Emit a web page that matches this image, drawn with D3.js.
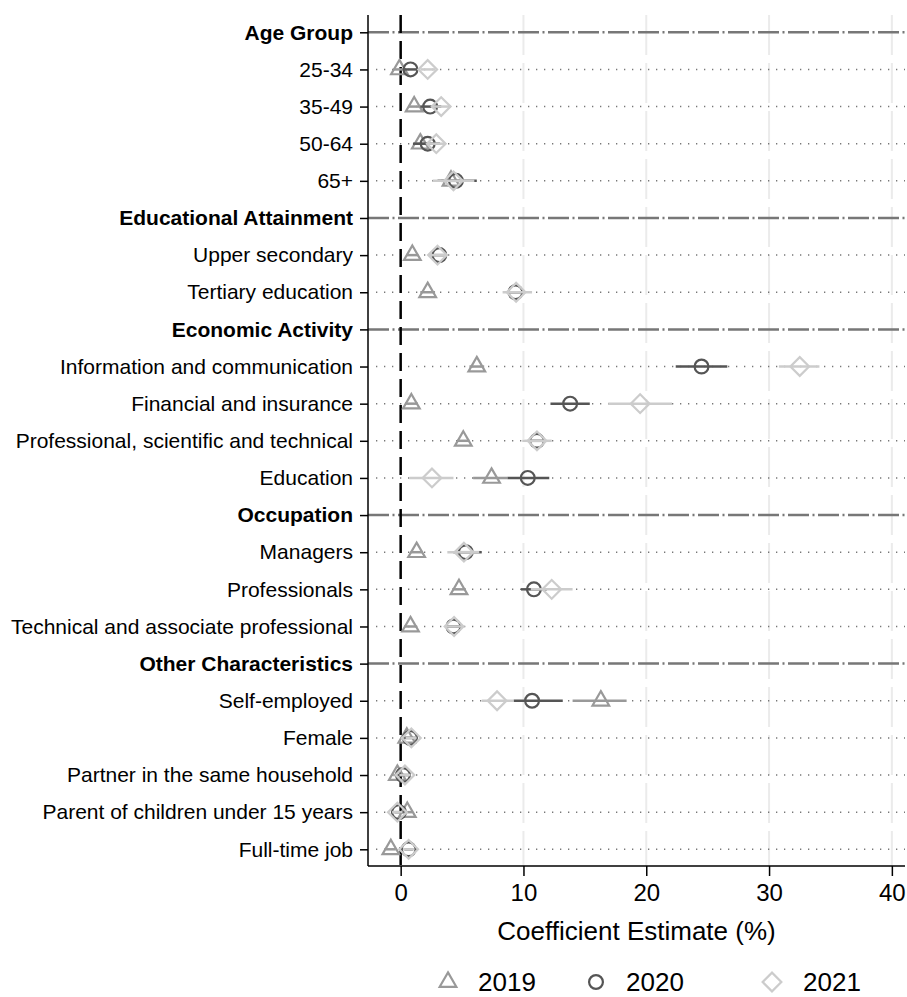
<!DOCTYPE html>
<html>
<head>
<meta charset="utf-8">
<script src="https://cdn.jsdelivr.net/npm/d3@7/dist/d3.min.js"></script>
<style>
  html, body { margin: 0; padding: 0; background: #fff; }
  svg { display: block; font-family: "Liberation Sans", Arial, Helvetica, sans-serif; }
</style>
</head>
<body>
<svg id="chart" width="907" height="997"></svg>
<script>
// ---------- data ----------
const rows = [
  "Age Group", "25-34", "35-49", "50-64", "65+",
  "Educational Attainment", "Upper secondary", "Tertiary education",
  "Economic Activity", "Information and communication", "Financial and insurance",
  "Professional, scientific and technical", "Education",
  "Occupation", "Managers", "Professionals", "Technical and associate professional",
  "Other Characteristics", "Self-employed", "Female", "Partner in the same household",
  "Parent of children under 15 years", "Full-time job"
];
const isHeader = [1,0,0,0,0, 1,0,0, 1,0,0,0,0, 1,0,0,0, 1,0,0,0,0,0];

const years = ["2019", "2020", "2021"];

// null = header row (no estimate)
const est2019 = [null, -0.1, 1.1, 1.6, 4.1, null, 0.95, 2.2, null, 6.2, 0.87, 5.1, 7.4, null, 1.3, 4.75, 0.8, null, 16.3, 0.5, -0.27, 0.54, -0.8];
const lo2019  = [null, -0.6, 0.6, 1.1, 3.3, null, 0.45, 1.6, null, 5.6, 0.35, 4.6, 5.9, null, 0.8, 4.2, 0.3, null, 14.0, 0.1, -0.6, 0.15, -1.2];
const hi2019  = [null, 0.4, 1.6, 2.1, 5.0, null, 1.45, 2.8, null, 6.8, 1.4, 5.6, 8.7, null, 1.8, 5.3, 1.3, null, 18.4, 0.9, 0.1, 0.95, -0.4];

const est2020 = [null, 0.8, 2.4, 2.2, 4.5, null, 3.15, 9.35, null, 24.5, 13.8, 11.1, 10.35, null, 5.3, 10.85, 4.3, null, 10.7, 0.76, 0.19, -0.14, 0.65];
const lo2020  = [null, 0.3, 1.6, 1.0, 3.0, null, 2.6, 8.8, null, 22.4, 12.2, 10.5, 8.7, null, 4.3, 9.8, 3.8, null, 9.2, 0.3, -0.2, -0.5, 0.3];
const hi2020  = [null, 1.3, 3.3, 3.2, 6.2, null, 3.7, 9.9, null, 26.6, 15.4, 11.7, 12.1, null, 6.6, 11.9, 4.8, null, 13.2, 1.2, 0.6, 0.25, 1.0];

const est2021 = [null, 2.2, 3.3, 2.9, 4.3, null, 3.0, 9.4, null, 32.5, 19.5, 11.1, 2.55, null, 5.15, 12.3, 4.35, null, 7.85, 0.87, 0.35, -0.27, 0.65];
const lo2021  = [null, 1.6, 2.5, 2.2, 2.6, null, 2.3, 8.3, null, 30.8, 16.9, 9.9, 0.7, null, 3.8, 10.6, 3.65, null, 6.6, 0.4, -0.1, -0.7, 0.2];
const hi2021  = [null, 2.8, 4.1, 3.6, 6.0, null, 3.7, 10.7, null, 34.1, 22.1, 12.3, 4.3, null, 6.4, 14.0, 5.1, null, 9.2, 1.3, 0.8, 0.15, 1.1];

const xTicks = [0, 10, 20, 30, 40];
const xTitle = "Coefficient Estimate (%)";

// ---------- layout ----------
const svg = d3.select("#chart");
const pLeft = 368, pRight = 905, pTop = 15, pBottom = 866;

const x = d3.scaleLinear().domain([-2.66, 41.07]).range([pLeft, pRight]);
const y = d3.scalePoint().domain(rows).range([32.3, 849.3]).padding(0);

const colors = { "2019": "#999999", "2020": "#555555", "2021": "#cccccc" };
const seriesData = {
  "2019": { est: est2019, lo: lo2019, hi: hi2019 },
  "2020": { est: est2020, lo: lo2020, hi: hi2020 },
  "2021": { est: est2021, lo: lo2021, hi: hi2021 }
};

// vertical grid lines
svg.append("g").selectAll("line")
  .data(xTicks.filter(t => t !== 0))
  .join("line")
  .attr("x1", d => x(d)).attr("x2", d => x(d))
  .attr("y1", pTop).attr("y2", pBottom)
  .attr("stroke", "#ebebeb").attr("stroke-width", 2)
  .attr("stroke-dasharray", "40,8");

// horizontal row lines
const rowG = svg.append("g");
rows.forEach((r, i) => {
  if (isHeader[i]) {
    rowG.append("line")
      .attr("x1", pLeft).attr("x2", pRight)
      .attr("y1", y(r)).attr("y2", y(r))
      .attr("stroke", "#777").attr("stroke-width", 2.5)
      .attr("stroke-dasharray", "21,3.5,2,3.5");
  } else {
    rowG.append("line")
      .attr("x1", pLeft + 8).attr("x2", pRight)
      .attr("y1", y(r)).attr("y2", y(r))
      .attr("stroke", "#777").attr("stroke-width", 1.5)
      .attr("stroke-dasharray", "1.3,6.7");
  }
});

// zero line
svg.append("line")
  .attr("x1", x(0)).attr("x2", x(0))
  .attr("y1", pTop).attr("y2", pBottom)
  .attr("stroke", "#000").attr("stroke-width", 2.5)
  .attr("stroke-dasharray", "18,8");

// axes
const yAxis = d3.axisLeft(y).tickSize(8).tickPadding(7);
const yg = svg.append("g").attr("transform", `translate(${pLeft},0)`).call(yAxis);
yg.select(".domain").attr("d", `M0,${pTop}V${pBottom}`).attr("stroke", "#000").attr("stroke-width", 1.5);
yg.selectAll(".tick line").attr("stroke", "#000").attr("stroke-width", 1.5);
yg.selectAll(".tick text")
  .attr("font-size", "21px")
  .attr("fill", "#000")
  .attr("font-weight", (d, i) => isHeader[i] ? "bold" : "normal");

const xAxis = d3.axisBottom(x).tickValues(xTicks).tickSize(10).tickPadding(8).tickFormat(d3.format("d"));
const xg = svg.append("g").attr("transform", `translate(0,${pBottom})`).call(xAxis);
xg.select(".domain").attr("d", `M${pLeft},0H${pRight}`).attr("stroke", "#000").attr("stroke-width", 1.5);
xg.selectAll(".tick line").attr("stroke", "#000").attr("stroke-width", 1.5);
xg.selectAll(".tick text").attr("font-size", "24px").attr("fill", "#000");

svg.append("text")
  .attr("x", (pLeft + pRight) / 2).attr("y", 940)
  .attr("text-anchor", "middle")
  .attr("font-size", "26px").attr("fill", "#000")
  .text(xTitle);

// symbols
const symTri = d3.symbol().type(d3.symbolTriangle).size(120);
const symCirc = d3.symbol().type(d3.symbolCircle).size(150);
const symSq = d3.symbol().type(d3.symbolSquare).size(175);
const shapes = {
  "2019": { path: symTri(), rot: 0 },
  "2020": { path: symCirc(), rot: 0 },
  "2021": { path: symSq(), rot: 45 }
};

// series
years.forEach(yr => {
  const s = seriesData[yr];
  const pts = rows.map((r, i) => ({ r, est: s.est[i], lo: s.lo[i], hi: s.hi[i] }))
    .filter(d => d.est !== null);
  const g = svg.append("g");
  g.selectAll("line.ci").data(pts).join("line")
    .attr("class", "ci")
    .attr("x1", d => x(d.lo)).attr("x2", d => x(d.hi))
    .attr("y1", d => y(d.r)).attr("y2", d => y(d.r))
    .attr("stroke", colors[yr]).attr("stroke-width", 2.5);
  g.selectAll("path.mk").data(pts).join("path")
    .attr("class", "mk")
    .attr("d", shapes[yr].path)
    .attr("transform", d => `translate(${x(d.est)},${y(d.r)}) rotate(${shapes[yr].rot})`)
    .attr("fill", "none")
    .attr("stroke", colors[yr]).attr("stroke-width", 2.2);
});

// legend
const legendItems = [
  { yr: "2019", mx: 448, tx: 478 },
  { yr: "2020", mx: 596, tx: 626 },
  { yr: "2021", mx: 772, tx: 803 }
];
const lg = svg.append("g");
legendItems.forEach(it => {
  lg.append("path")
    .attr("d", shapes[it.yr].path)
    .attr("transform", `translate(${it.mx},${982}) rotate(${shapes[it.yr].rot})`)
    .attr("fill", "none").attr("stroke", colors[it.yr]).attr("stroke-width", 2.2);
  lg.append("text")
    .attr("x", it.tx).attr("y", 991)
    .attr("font-size", "26px").attr("fill", "#000")
    .text(it.yr);
});
</script>
</body>
</html>
